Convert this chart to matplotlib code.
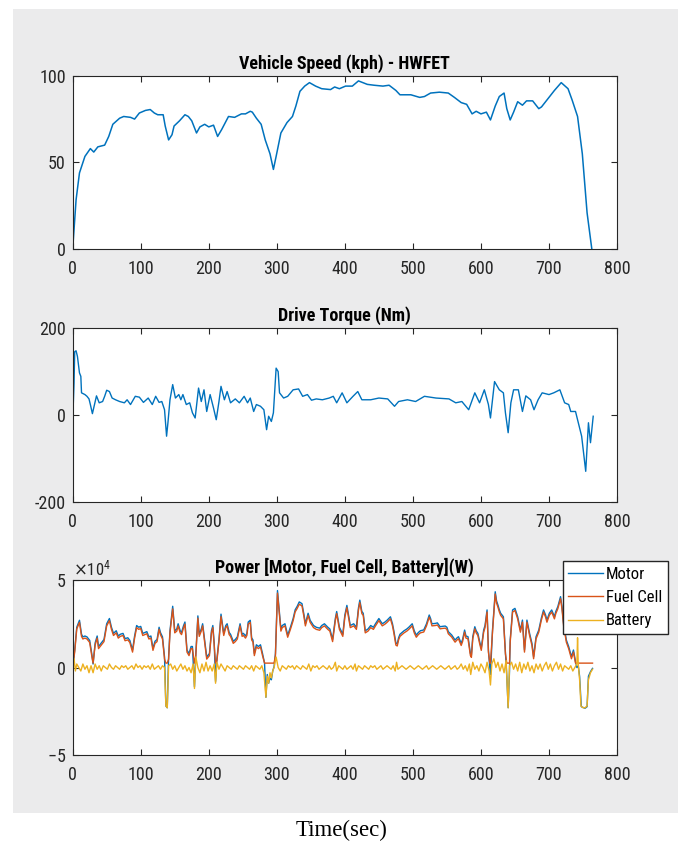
import numpy as np
import matplotlib.pyplot as plt
from matplotlib.patches import Rectangle
from matplotlib.ticker import ScalarFormatter

plt.rcParams['font.family'] = ['Roboto Condensed', 'Liberation Sans', 'DejaVu Sans']
plt.rcParams['axes.unicode_minus'] = False

# Vehicle speed (kph) - HWFET
t_speed = [0, 5, 10, 18, 26, 31, 37, 47, 53, 59, 69, 75, 85, 91, 98, 107, 114, 120, 125, 133,
           136, 141, 146, 149, 157, 165, 170, 175, 182, 187, 194, 200, 207, 213, 219, 229, 238,
           248, 254, 261, 264, 270, 277, 283, 290, 295, 299, 306, 315, 323, 328, 334, 341, 348,
           357, 366, 379, 385, 392, 401, 411, 420, 433, 443, 456, 465, 475, 481, 497, 510, 517,
           526, 539, 552, 561, 571, 579, 587, 593, 600, 608, 614, 621, 627, 634, 638, 643, 648,
           654, 661, 667, 676, 685, 689, 700, 708, 718, 728, 734, 742, 749, 756, 763]
speed = [0, 28.5, 44, 53.5, 58, 56, 59, 60, 65, 72, 75.5, 76.5, 76, 75, 78.5, 80, 80.5, 78.5, 77.5, 77.5,
         71, 63, 66, 71, 74, 77.5, 76.5, 74, 67, 70.5, 72, 70.5, 71.5, 65, 69, 76.5, 76,
         78, 78, 79.5, 79, 75.5, 72, 63, 55, 46, 53.5, 67, 73, 76.5, 82.5, 91, 94, 96,
         94, 92.5, 92, 93.5, 92.5, 94, 94, 97, 95, 94.5, 94, 94.5, 91.5, 89, 89, 87.5, 88,
         90, 90.5, 90, 87.5, 84.5, 83.5, 78, 79.5, 78, 79, 74.5, 82.5, 88, 90, 81, 74.5, 79,
         85, 83, 85.5, 85.5, 81, 82, 87.5, 91.5, 96, 92.5, 86, 76.5, 55, 21, 0]

# Drive torque (Nm)
t_torque = [0, 2, 3, 5, 7, 10, 12, 13, 18, 21, 24, 26, 29, 33, 35, 39, 44, 47, 50, 54, 58, 63, 69,
            76, 80, 85, 92, 98, 104, 111, 117, 122, 127, 131, 135, 138, 140, 143, 147, 151, 156,
            159, 162, 167, 172, 176, 180, 185, 189, 193, 197, 202, 207, 211, 215, 218, 223, 227,
            232, 239, 245, 252, 257, 261, 266, 270, 276, 281, 285, 288, 292, 295, 299, 302, 304,
            310, 316, 324, 332, 338, 345, 351, 358, 367, 377, 383, 388, 396, 403, 412, 419, 425,
            438, 450, 463, 473, 479, 492, 504, 517, 534, 553, 563, 572, 582, 591, 598, 605, 611,
            614, 620, 627, 633, 636, 640, 644, 648, 655, 661, 666, 673, 678, 684, 690, 700, 707,
            716, 723, 729, 732, 739, 742, 748, 754, 758, 761, 765]
torque = [-15, 73, 146, 148, 135, 97, 89, 51, 47, 43, 37, 24, 3, 31, 44, 28, 31, 43, 57, 54, 39, 35, 31,
          28, 35, 24, 43, 41, 29, 39, 24, 43, 29, 31, 12, -49, -18, 35, 70, 39, 47,
          35, 47, 24, 28, 5, -7, 62, 31, 58, 8, 47, 16, -11, 31, 66, 35, 54,
          28, 37, 28, 43, 28, 39, 8, 24, 20, 12, -34, -3, -15, 5, 108, 100, 51,
          39, 43, 58, 60, 43, 47, 34, 37, 35, 39, 43, 28, 51, 28, 43, 54, 35,
          35, 39, 37, 20, 31, 35, 31, 43, 39, 37, 28, 31, 12, 51, 28, 58, 24,
          -7, 77, 58, 51, 5, -41, 28, 58, 58, 8, 44, 35, 12, 35, 51, 47, 51,
          58, 28, 24, 8, 8, -11, -49, -130, -18, -64, -3]

# Power (kW): motor, fuel cell, battery
t_power = [0, 3, 6, 10, 13, 15, 18, 21, 25, 28, 30, 33, 36, 38, 42, 46, 50, 54, 57, 60, 64, 67, 70,
           74, 77, 81, 84, 88, 91, 94, 97, 100, 103, 106, 109, 112, 115, 118, 121, 124, 127, 129,
           132, 135, 137, 139, 141, 143, 147, 150, 153, 155, 158, 160, 163, 165, 168, 171, 174,
           176, 179, 181, 184, 186, 189, 191, 194, 197, 201, 204, 206, 208, 210, 212, 215, 218,
           220, 222, 225, 227, 230, 232, 236, 239, 242, 246, 249, 251, 254, 256, 258, 261, 263,
           265, 267, 270, 273, 276, 279, 282, 284, 286, 288, 290, 292, 294, 296, 298, 301, 304,
           306, 308, 312, 316, 320, 324, 327, 330, 333, 337, 340, 342, 346, 349, 354, 358, 363,
           366, 370, 375, 378, 382, 386, 388, 392, 397, 400, 403, 408, 413, 417, 420, 422, 425,
           427, 430, 434, 438, 442, 445, 450, 455, 459, 462, 467, 470, 472, 475, 477, 479, 481,
           484, 487, 491, 494, 499, 502, 505, 508, 511, 516, 520, 524, 526, 528, 533, 536, 540,
           543, 547.5, 550, 552, 557, 562, 565, 567, 571, 573, 576, 578, 581, 584.5, 586, 588,
           591, 593, 595.5, 598, 600.5, 604, 606, 609, 611, 613, 614, 617, 621, 623, 625, 627,
           629, 633, 636, 638, 640, 642, 643, 646.5, 650, 654, 658, 661, 664, 667.6, 671.5, 675,
           677.4, 681, 685, 688.7, 692, 695, 697, 700.5, 704, 708, 710, 713, 717, 719, 721.5,
           725.5, 729, 733, 736, 739, 741, 743, 745, 747.5, 753, 756, 758, 761, 764]
motor_kw = [0, 10, 23, 27, 19, 17.5, 18, 17.5, 15.5, 8, 2, 14, 18, 12, 14, 16, 25, 28, 23, 19.5, 21, 18, 19,
            19.5, 16.5, 17, 15.5, 10, 18, 24, 23, 23.5, 19.5, 20, 20.5, 17.5, 18, 11, 15, 16, 23, 20,
            17.5, 6, -22, -23, 6, 21, 35, 21, 22, 25, 21, 20, 24, 26, 10, 8, 12,
            12, -11, 8, 29.5, 19, 22, 25, 15.5, 6, 8, 21, 24, 14, -8, 5, 16, 30.5,
            25, 19.5, 24, 25, 20, 19, 15, 16, 17.5, 25, 19, 19.5, 18, 19.5, 26, 27, 17,
            15.7, 8, 13, 12, 13, 8, 2.5, -17, -4, -9, -6, -7, -2, 0.5, 8, 44, 31,
            22, 24, 25, 18.5, 23, 28, 33, 35, 37.5, 36.5, 30, 25, 31, 27, 24, 23, 22.5,
            24, 25, 23, 22, 16, 28, 32, 23, 19, 30, 35.5, 24, 25, 23, 34, 38.5, 32,
            31, 21, 22, 24, 23, 25, 28, 25, 26, 27, 29, 25, 21, 14, 13.5, 17, 19,
            20, 21, 22, 23, 25, 21, 18.5, 20, 21, 21.5, 25, 30, 28, 25, 25.2, 25.5, 23.3,
            23.5, 23.7, 23, 20.5, 18.6, 15.7, 17, 17.6, 13.8, 16, 21.4, 18, 17.6, 8.1, 7, 17.6,
            23.3, 21, 19.5, 15, 11, 21.4, 24, 32.9, 10, 0, -4, 21.4, 43.3, 38, 35.7, 33,
            31, 29, 9, -5, -23, -2, 15.7, 32.9, 33.8, 29, 21.4, 27.1, 10, 27.1, 19.5, 13.8,
            6.2, 17.6, 21.4, 28.1, 32.9, 30, 27.1, 31, 32.9, 29, 32, 34.8, 40.5, 35, 25.2,
            15.7, 11.9, 6.2, 10, 3.3, 0, 1, -5, -22.4, -23.3, -22.4, -5, -2.4, -0.5]
fuelcell_kw = [0, 9, 22, 25.8, 17.8, 16.3, 16.8, 16.3, 14.3, 6.8, 2.5, 12.8, 16.8, 10.8, 12.8, 14.8, 23.8, 26.8, 21.8, 18.3, 19.8, 16.8, 17.8,
               18.3, 15.3, 15.8, 14.3, 8.8, 16.8, 22.8, 21.8, 22.3, 18.3, 18.8, 19.3, 16.3, 16.8, 9.8, 13.8, 14.8, 21.8, 18.8,
               16.3, 4.8, 2.5, 2.5, 4.8, 19.8, 33.5, 19.8, 20.8, 23.8, 19.8, 18.8, 22.8, 24.8, 8.8, 6.8, 10.8,
               10.8, 2.5, 6.8, 28.2, 17.8, 20.8, 23.8, 14.3, 4.8, 6.8, 19.8, 22.8, 12.8, 2.5, 3.8, 14.8, 29.2,
               23.8, 18.3, 22.8, 23.8, 18.8, 17.8, 13.8, 14.8, 16.3, 23.8, 17.8, 18.3, 16.8, 18.3, 24.8, 25.8, 15.8,
               14.5, 6.8, 11.8, 10.8, 11.8, 6.8, 2.5, 2.5, 2.5, 2.5, 2.5, 2.5, 2.5, 2.5, 6.8, 42.5, 29.8,
               20.8, 22.8, 23.8, 17.3, 21.8, 26.8, 31.8, 33.8, 36.2, 35.2, 28.8, 23.8, 29.8, 25.8, 22.8, 21.8, 21.3,
               22.8, 23.8, 21.8, 20.8, 14.8, 26.8, 30.8, 21.8, 17.8, 28.8, 34.2, 22.8, 23.8, 21.8, 32.8, 37.2, 30.8,
               29.8, 19.8, 20.8, 22.8, 21.8, 23.8, 26.8, 23.8, 24.8, 25.8, 27.8, 23.8, 19.8, 12.8, 12.3, 15.8, 17.8,
               18.8, 19.8, 20.8, 21.8, 23.8, 19.8, 17.3, 18.8, 19.8, 20.3, 23.8, 28.8, 26.8, 23.8, 24, 24.3, 22.1,
               22.3, 22.5, 21.8, 19.3, 17.4, 14.5, 15.8, 16.4, 12.6, 14.8, 20.2, 16.8, 16.4, 6.9, 5.8, 16.4,
               22.1, 19.8, 18.3, 13.8, 9.8, 20.2, 22.8, 31.7, 8.8, 2.5, 2.5, 20.2, 42, 36.8, 34.5, 31.8,
               29.8, 27.8, 7.8, 2.5, 2.5, 2.5, 14.5, 31.7, 32.6, 27.8, 20.2, 25.9, 8.8, 25.9, 18.3, 12.6,
               5, 16.4, 20.2, 26.9, 31.7, 28.8, 25.9, 29.8, 31.7, 27.8, 30.8, 33.6, 39.3, 33.8, 24,
               14.5, 10.7, 5, 8.8, 2.5, 2.5, 2.5, 2.5, 2.5, 2.5, 2.5, 2.5, 2.5, 2.5]
t_batt = [0, 2, 4, 6, 9, 12, 15, 18, 21, 24, 27, 30, 33, 36, 39, 42, 45, 48, 51, 54, 57, 60, 63, 66,
          69, 72, 75, 78, 81, 84, 87, 90, 93, 96, 99, 102, 105, 108, 111, 114, 117, 120, 123, 126,
          129, 132, 135, 137, 139, 141, 144, 147, 150, 153, 156, 159, 162, 165, 168, 171, 174,
          177, 179, 181, 184, 187, 190, 193, 196, 199, 202, 205, 208, 210, 212, 215, 218, 221,
          224, 227, 230, 233, 236, 239, 242, 245, 248, 251, 254, 257, 260, 263, 266, 269, 272,
          275, 278, 281, 284, 286, 288, 290, 292, 294, 296, 299, 302, 305, 308, 311, 314, 317,
          320, 323, 326, 329, 332, 335, 338, 341, 344, 347, 350, 353, 356, 359, 362, 365, 368,
          371, 374, 377, 380, 383, 386, 388, 391, 394, 397, 400, 403, 406, 409, 412, 415, 417,
          420, 423, 426, 429, 432, 435, 438, 441, 444, 447, 450, 453, 456, 459, 462, 465, 468,
          471, 474, 476, 478, 481, 484, 487, 490, 493, 496, 499, 502, 505, 508, 511, 514, 517,
          520, 523, 526, 529, 532, 535, 538, 541, 544, 547, 550, 553, 556, 559, 562, 565, 568,
          571, 574, 577, 580, 583, 585, 588, 591, 594, 597, 600, 603, 606, 609, 612, 614, 616,
          619, 622, 625, 628, 631, 634, 637, 640, 642, 645, 648, 651, 654, 657, 660, 663, 666,
          669, 672, 675, 678, 681, 684, 687, 690, 693, 696, 699, 702, 705, 708, 711, 714, 717,
          720, 723, 726, 729, 732, 735, 738, 741, 742, 743, 745, 747, 750, 753, 756, 758, 761, 764]
battery_kw = [3, 5, -2, 2, 0, -2, 2, -1, 1, -3, 1, -3, 2, -1, 1, -2, 1, 0, -1, 2, 0, -1, 1, 0,
              -1, 1, 0, 1, -1, 0, 1, -1, 2, 0, 1, -1, 1, 0, 1, -1, 2, -1, 0, 1,
              -1, 1, 0, -22, -23, 1, 2, -1, 1, -2, 0, 2, -1, 1, -2, 0, -3,
              2, -12, 6, 0, -3, 2, -2, 3, -2, 1, -2, 2, -9, 3, -1, 2, 0,
              -2, 1, 0, -1, 1, 0, -1, 1, 0, -1, 1, 0, -1, 1, -2, 1, 0,
              -1, 1, -3, -17, -5, -9, -3, -6, -2, 0, 6, 0, -2, 1, 0, -1, 1,
              0, 1, -1, 1, 0, -1, 1, 0, -1, 2, -2, 1, 0, 1, -1, 0, 1,
              0, -1, 1, -1, 0, 3, -2, 1, 0, -1, 1, -1, 0, 1, -1, 2, -2,
              1, 0, -1, 1, 0, -1, 1, 0, 1, -1, 0, 1, -1, 0, 1, 0, -1,
              1, -2, 3, -1, 0, 1, 0, -1, 0, 1, 0, -1, 0, 1, 0, -1, 0,
              1, -1, 0, 1, 0, -1, 0, 1, 0, -1, 0, 1, -1, 0, 1, -1, 0,
              2, -1, 1, -2, 2, -4, 3, -1, 1, -2, 2, 0, -3, 3, -2, -10, 2,
              5, 0, 3, -2, 2, -3, 4, -23, 1, 3, -1, 2, -2, 3, -3, 2, -1,
              3, -2, 1, -3, 2, -1, 2, -2, 1, 3, -1, 2, -2, 1, 3, -1, 2,
              -2, 1, 0, -1, 1, -2, 0, 2, 17, 2, -7, -22, -23, -23, -22, -7, -3, -1]

series_names = ['Motor', 'Fuel Cell', 'Battery']
colors = ['#0072BD', '#D95319', '#EDB120']
titles = ['Vehicle Speed (kph) - HWFET', 'Drive Torque (Nm)', 'Power [Motor, Fuel Cell, Battery](W)']

fig = plt.figure(figsize=(6.83, 8.41), dpi=100)
fig.patch.set_facecolor('white')
fig.patches.append(Rectangle((0.019, 0.0333), 0.9736, 0.956, transform=fig.transFigure,
                             facecolor='#ebebec', edgecolor='none', zorder=-1))

left, width = 0.1064, 0.797
ax1 = fig.add_axes([left, 0.7036, width, 0.2064])
ax2 = fig.add_axes([left, 0.4035, width, 0.2062])
ax3 = fig.add_axes([left, 0.1023, width, 0.208])

ax1.plot(t_speed, speed, color=colors[0], lw=1.1)
ax1.set_ylim(0, 100)
ax1.set_yticks([0, 50, 100])

ax2.plot(t_torque, torque, color=colors[0], lw=1.0)
ax2.set_ylim(-200, 200)
ax2.set_yticks([-200, 0, 200])

l1, = ax3.plot(t_power, np.array(motor_kw) * 1e3, color=colors[0], lw=1.0)
l2, = ax3.plot(t_power, np.array(fuelcell_kw) * 1e3, color=colors[1], lw=1.0)
l3, = ax3.plot(t_batt, np.array(battery_kw) * 1e3, color=colors[2], lw=1.0)
ax3.set_ylim(-5e4, 5e4)
ax3.set_yticks([-5e4, 0, 5e4])
fmt = ScalarFormatter(useMathText=True)
fmt.set_powerlimits((0, 0))
ax3.yaxis.set_major_formatter(fmt)
ax3.yaxis.get_offset_text().set_fontsize(12)
ax3.yaxis.get_offset_text().set_color('#262626')

for ax, title in zip([ax1, ax2, ax3], titles):
    ax.set_xlim(0, 800)
    ax.set_xticks(range(0, 801, 100))
    ax.set_title(title, fontsize=13, fontweight='bold', color='black', pad=5)
    ax.tick_params(direction='in', top=True, right=True, length=4, width=0.8,
                   colors='#262626', labelsize=13)
    ax.tick_params(axis='x', pad=8)
    ax.tick_params(axis='y', pad=5)
    for s in ax.spines.values():
        s.set_color('#262626')
        s.set_linewidth(0.8)

fig.legend([l1, l2, l3], series_names, loc='upper right',
           bbox_to_anchor=(668 / 683, 1 - 561 / 841), bbox_transform=fig.transFigure,
           fontsize=12, frameon=True, fancybox=False, framealpha=1, edgecolor='#262626',
           borderpad=0.35, labelspacing=0.5, handlelength=2.1, handletextpad=0.15,
           borderaxespad=0)

fig.text(0.5007, 0.0131, 'Time(sec)', family='Liberation Serif', fontsize=16.5,
         ha='center', va='center')

fig.savefig('out.png', dpi=100)
